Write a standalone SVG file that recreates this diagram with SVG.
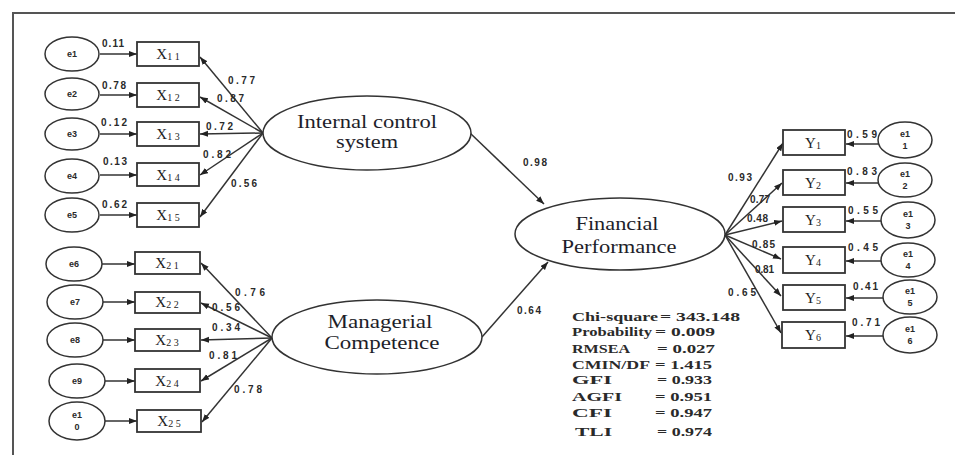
<svg xmlns="http://www.w3.org/2000/svg" width="955" height="455" viewBox="0 0 955 455">
<defs>
<marker id="ah" markerUnits="userSpaceOnUse" markerWidth="9" markerHeight="7" refX="8" refY="3" orient="auto">
<path d="M0,0 L8,3 L0,6 z" fill="#222"/>
</marker>
<style>
.ln{stroke:#333;stroke-width:1.5;fill:none}
.el{fill:#fff;stroke:#333;stroke-width:1.5}
.bx{fill:#fff;stroke:#333;stroke-width:1.8}
.lab{font-family:"Liberation Sans",Arial,sans-serif;font-weight:bold;font-size:10px;fill:#2a2a2a}
.el-t{font-family:"Liberation Sans",Arial,sans-serif;font-weight:bold;font-size:9px;fill:#2a2a2a;text-anchor:middle}
.bx-t{font-family:"Liberation Serif","Times New Roman",serif;font-size:15px;fill:#222;text-anchor:middle}
.big{font-family:"Liberation Serif","Times New Roman",serif;font-size:18px;fill:#1e1e2a;text-anchor:middle}
.stat{font-family:"Liberation Serif","Times New Roman",serif;font-weight:bold;font-size:13px;fill:#2a2a2a}
</style>
</defs>
<rect width="955" height="455" fill="#fff"/>
<path d="M13,455 L13,13 L955,13" stroke="#555" stroke-width="2" fill="none"/>

<g id="connectors">
<line class="ln" x1="100" y1="54" x2="137" y2="54" marker-end="url(#ah)"/>
<line class="ln" x1="100" y1="95" x2="137" y2="95" marker-end="url(#ah)"/>
<line class="ln" x1="100" y1="134" x2="137" y2="134" marker-end="url(#ah)"/>
<line class="ln" x1="100" y1="175" x2="137" y2="175" marker-end="url(#ah)"/>
<line class="ln" x1="100" y1="215" x2="137" y2="215" marker-end="url(#ah)"/>
<line class="ln" x1="102" y1="264" x2="135" y2="264" marker-end="url(#ah)"/>
<line class="ln" x1="103" y1="302" x2="135" y2="302" marker-end="url(#ah)"/>
<line class="ln" x1="103" y1="340" x2="135" y2="340" marker-end="url(#ah)"/>
<line class="ln" x1="104" y1="381" x2="135" y2="381" marker-end="url(#ah)"/>
<line class="ln" x1="104" y1="421" x2="137" y2="421" marker-end="url(#ah)"/>
<line class="ln" x1="263" y1="133" x2="200" y2="57" marker-end="url(#ah)"/>
<line class="ln" x1="263" y1="133" x2="200" y2="97" marker-end="url(#ah)"/>
<line class="ln" x1="263" y1="133" x2="200" y2="134" marker-end="url(#ah)"/>
<line class="ln" x1="263" y1="133" x2="200" y2="175" marker-end="url(#ah)"/>
<line class="ln" x1="263" y1="133" x2="200" y2="217" marker-end="url(#ah)"/>
<line class="ln" x1="272" y1="338" x2="201" y2="263" marker-end="url(#ah)"/>
<line class="ln" x1="272" y1="338" x2="201" y2="303" marker-end="url(#ah)"/>
<line class="ln" x1="272" y1="338" x2="201" y2="340" marker-end="url(#ah)"/>
<line class="ln" x1="272" y1="338" x2="201" y2="381" marker-end="url(#ah)"/>
<line class="ln" x1="272" y1="338" x2="202" y2="422" marker-end="url(#ah)"/>
<line class="ln" x1="470" y1="133" x2="544" y2="204" marker-end="url(#ah)"/>
<line class="ln" x1="482" y1="337" x2="548" y2="262" marker-end="url(#ah)"/>
<line class="ln" x1="725" y1="235" x2="783" y2="143" marker-end="url(#ah)"/>
<line class="ln" x1="725" y1="235" x2="782" y2="183" marker-end="url(#ah)"/>
<line class="ln" x1="725" y1="235" x2="782" y2="221" marker-end="url(#ah)"/>
<line class="ln" x1="725" y1="235" x2="781" y2="259" marker-end="url(#ah)"/>
<line class="ln" x1="725" y1="235" x2="781" y2="296" marker-end="url(#ah)"/>
<line class="ln" x1="725" y1="235" x2="781" y2="333" marker-end="url(#ah)"/>
<line class="ln" x1="878" y1="144" x2="846" y2="144" marker-end="url(#ah)"/>
<line class="ln" x1="878" y1="183" x2="846" y2="183" marker-end="url(#ah)"/>
<line class="ln" x1="881" y1="221" x2="846" y2="221" marker-end="url(#ah)"/>
<line class="ln" x1="881" y1="261" x2="846" y2="261" marker-end="url(#ah)"/>
<line class="ln" x1="883" y1="298" x2="846" y2="298" marker-end="url(#ah)"/>
<line class="ln" x1="883" y1="336" x2="846" y2="336" marker-end="url(#ah)"/>
<text class="lab" x="102" y="47" textLength="22">0.11</text>
<text class="lab" x="102" y="89" textLength="24">0.78</text>
<text class="lab" x="101" y="126" textLength="26">0.12</text>
<text class="lab" x="103" y="165" textLength="24">0.13</text>
<text class="lab" x="102" y="208" textLength="25">0.62</text>
<text class="lab" x="228" y="84" textLength="27">0.77</text>
<text class="lab" x="217" y="102" textLength="27">0.87</text>
<text class="lab" x="206" y="130" textLength="27">0.72</text>
<text class="lab" x="203" y="158" textLength="28">0.82</text>
<text class="lab" x="231" y="187" textLength="26">0.56</text>
<text class="lab" x="235" y="296" textLength="30">0.76</text>
<text class="lab" x="212" y="311" textLength="28">0.56</text>
<text class="lab" x="212" y="331" textLength="28">0.34</text>
<text class="lab" x="209" y="359" textLength="28">0.81</text>
<text class="lab" x="234" y="393" textLength="28">0.78</text>
<text class="lab" x="523" y="166" textLength="24">0.98</text>
<text class="lab" x="517" y="314" textLength="24">0.64</text>
<text class="lab" x="728" y="181" textLength="24">0.93</text>
<text class="lab" x="750" y="203" textLength="20">0.77</text>
<text class="lab" x="747" y="222" textLength="21">0.48</text>
<text class="lab" x="752" y="248" textLength="23">0.85</text>
<text class="lab" x="755" y="273" textLength="19">0.81</text>
<text class="lab" x="728" y="296" textLength="28">0.65</text>
<text class="lab" x="847" y="138" textLength="30">0.59</text>
<text class="lab" x="847" y="175" textLength="30">0.83</text>
<text class="lab" x="848" y="214" textLength="30">0.55</text>
<text class="lab" x="848" y="251" textLength="30">0.45</text>
<text class="lab" x="853" y="290" textLength="25">0.41</text>
<text class="lab" x="852" y="326" textLength="28">0.71</text>
</g>

<g id="e1"><ellipse class="el" cx="72" cy="54" rx="27" ry="17"/><text class="el-t" x="72" y="57">e1</text></g>
<g id="e2"><ellipse class="el" cx="72" cy="94" rx="27" ry="16"/><text class="el-t" x="72" y="97">e2</text></g>
<g id="e3"><ellipse class="el" cx="72" cy="134" rx="27" ry="16"/><text class="el-t" x="72" y="137">e3</text></g>
<g id="e4"><ellipse class="el" cx="72" cy="176" rx="27" ry="17"/><text class="el-t" x="72" y="179">e4</text></g>
<g id="e5"><ellipse class="el" cx="72" cy="215" rx="27" ry="17"/><text class="el-t" x="72" y="218">e5</text></g>
<g id="e6"><ellipse class="el" cx="74" cy="264" rx="28" ry="17"/><text class="el-t" x="74" y="267">e6</text></g>
<g id="e7"><ellipse class="el" cx="75" cy="302" rx="28" ry="17"/><text class="el-t" x="75" y="305">e7</text></g>
<g id="e8"><ellipse class="el" cx="75" cy="340" rx="28" ry="17"/><text class="el-t" x="75" y="343">e8</text></g>
<g id="e9"><ellipse class="el" cx="77" cy="381" rx="28" ry="17"/><text class="el-t" x="77" y="384">e9</text></g>
<g id="e10"><ellipse class="el" cx="77" cy="421" rx="28" ry="19"/><text class="el-t" x="77" y="418">e1</text><text class="el-t" x="77" y="430">0</text></g>

<g id="X11"><rect class="bx" x="137" y="42" width="62" height="24"/><text class="bx-t" x="168" y="59">X<tspan font-size="10" dy="1">1 1</tspan></text></g>
<g id="X12"><rect class="bx" x="137" y="83" width="62" height="24"/><text class="bx-t" x="168" y="100">X<tspan font-size="10" dy="1">1 2</tspan></text></g>
<g id="X13"><rect class="bx" x="137" y="122" width="62" height="24"/><text class="bx-t" x="168" y="139">X<tspan font-size="10" dy="1">1 3</tspan></text></g>
<g id="X14"><rect class="bx" x="137" y="163" width="62" height="23"/><text class="bx-t" x="168" y="180">X<tspan font-size="10" dy="1">1 4</tspan></text></g>
<g id="X15"><rect class="bx" x="137" y="203" width="62" height="24"/><text class="bx-t" x="168" y="220">X<tspan font-size="10" dy="1">1 5</tspan></text></g>
<g id="X21"><rect class="bx" x="135" y="252" width="65" height="22"/><text class="bx-t" x="167" y="268">X<tspan font-size="10" dy="1">2 1</tspan></text></g>
<g id="X22"><rect class="bx" x="135" y="292" width="65" height="21"/><text class="bx-t" x="167" y="307">X<tspan font-size="10" dy="1">2 2</tspan></text></g>
<g id="X23"><rect class="bx" x="135" y="329" width="65" height="22"/><text class="bx-t" x="167" y="345">X<tspan font-size="10" dy="1">2 3</tspan></text></g>
<g id="X24"><rect class="bx" x="135" y="369" width="65" height="23"/><text class="bx-t" x="167" y="386">X<tspan font-size="10" dy="1">2 4</tspan></text></g>
<g id="X25"><rect class="bx" x="137" y="410" width="64" height="22"/><text class="bx-t" x="169" y="426">X<tspan font-size="10" dy="1">2 5</tspan></text></g>

<g id="internal-control"><ellipse class="el" cx="367" cy="133" rx="104" ry="37"/>
<text class="big" x="367" y="128" textLength="140" lengthAdjust="spacingAndGlyphs">Internal control</text>
<text class="big" x="367" y="148" font-size="16" textLength="62" lengthAdjust="spacingAndGlyphs" fill="#333">system</text></g>
<g id="managerial"><ellipse class="el" cx="377" cy="337" rx="105" ry="37"/>
<text class="big" x="380" y="328" textLength="105" lengthAdjust="spacingAndGlyphs">Managerial</text>
<text class="big" x="382" y="349" textLength="115" lengthAdjust="spacingAndGlyphs">Competence</text></g>
<g id="financial"><ellipse class="el" cx="620" cy="234" rx="105" ry="36"/>
<text class="big" x="617" y="230" textLength="83" lengthAdjust="spacingAndGlyphs">Financial</text>
<text class="big" x="619" y="253" textLength="115" lengthAdjust="spacingAndGlyphs">Performance</text></g>

<g id="Y1"><rect class="bx" x="783" y="130" width="62" height="25"/><text class="bx-t" x="813" y="148">Y<tspan font-size="10" dy="1">1</tspan></text></g>
<g id="Y2"><rect class="bx" x="783" y="170" width="62" height="25"/><text class="bx-t" x="813" y="188">Y<tspan font-size="10" dy="1">2</tspan></text></g>
<g id="Y3"><rect class="bx" x="783" y="207" width="62" height="25"/><text class="bx-t" x="813" y="225">Y<tspan font-size="10" dy="1">3</tspan></text></g>
<g id="Y4"><rect class="bx" x="783" y="247" width="62" height="26"/><text class="bx-t" x="813" y="265">Y<tspan font-size="10" dy="1">4</tspan></text></g>
<g id="Y5"><rect class="bx" x="783" y="285" width="62" height="25"/><text class="bx-t" x="813" y="303">Y<tspan font-size="10" dy="1">5</tspan></text></g>
<g id="Y6"><rect class="bx" x="782" y="322" width="63" height="26"/><text class="bx-t" x="813" y="340">Y<tspan font-size="10" dy="1">6</tspan></text></g>

<g id="e11"><ellipse class="el" cx="905" cy="140" rx="27" ry="18"/><text class="el-t" x="905" y="137">e1</text><text class="el-t" x="905" y="149">1</text></g>
<g id="e12"><ellipse class="el" cx="905" cy="180" rx="27" ry="17"/><text class="el-t" x="905" y="177">e1</text><text class="el-t" x="905" y="189">2</text></g>
<g id="e13"><ellipse class="el" cx="908" cy="220" rx="27" ry="18"/><text class="el-t" x="908" y="217">e1</text><text class="el-t" x="908" y="229">3</text></g>
<g id="e14"><ellipse class="el" cx="908" cy="260" rx="27" ry="17"/><text class="el-t" x="908" y="257">e1</text><text class="el-t" x="908" y="269">4</text></g>
<g id="e15"><ellipse class="el" cx="910" cy="297" rx="27" ry="17"/><text class="el-t" x="910" y="294">e1</text><text class="el-t" x="910" y="306">5</text></g>
<g id="e16"><ellipse class="el" cx="910" cy="335" rx="27" ry="18"/><text class="el-t" x="910" y="332">e1</text><text class="el-t" x="910" y="344">6</text></g>

<g id="fit-stats">
<text class="stat" x="572" y="321" textLength="86" lengthAdjust="spacingAndGlyphs">Chi-square</text><text class="stat" x="660" y="321" textLength="80" lengthAdjust="spacingAndGlyphs">= 343.148</text>
<text class="stat" x="572" y="336" textLength="80" lengthAdjust="spacingAndGlyphs">Probability</text><text class="stat" x="655" y="336" textLength="60" lengthAdjust="spacingAndGlyphs">= 0.009</text>
<text class="stat" x="572" y="353" textLength="58" lengthAdjust="spacingAndGlyphs">RMSEA</text><text class="stat" x="657" y="353" textLength="58" lengthAdjust="spacingAndGlyphs">= 0.027</text>
<text class="stat" x="572" y="369" textLength="78" lengthAdjust="spacingAndGlyphs">CMIN/DF</text><text class="stat" x="655" y="369" textLength="57" lengthAdjust="spacingAndGlyphs">= 1.415</text>
<text class="stat" x="572" y="384" textLength="40" lengthAdjust="spacingAndGlyphs">GFI</text><text class="stat" x="657" y="384" textLength="55" lengthAdjust="spacingAndGlyphs">= 0.933</text>
<text class="stat" x="572" y="401" textLength="50" lengthAdjust="spacingAndGlyphs">AGFI</text><text class="stat" x="655" y="401" textLength="57" lengthAdjust="spacingAndGlyphs">= 0.951</text>
<text class="stat" x="572" y="417" textLength="40" lengthAdjust="spacingAndGlyphs">CFI</text><text class="stat" x="655" y="417" textLength="57" lengthAdjust="spacingAndGlyphs">= 0.947</text>
<text class="stat" x="575" y="436" textLength="37" lengthAdjust="spacingAndGlyphs">TLI</text><text class="stat" x="657" y="436" textLength="55" lengthAdjust="spacingAndGlyphs">= 0.974</text>
</g>
</svg>
